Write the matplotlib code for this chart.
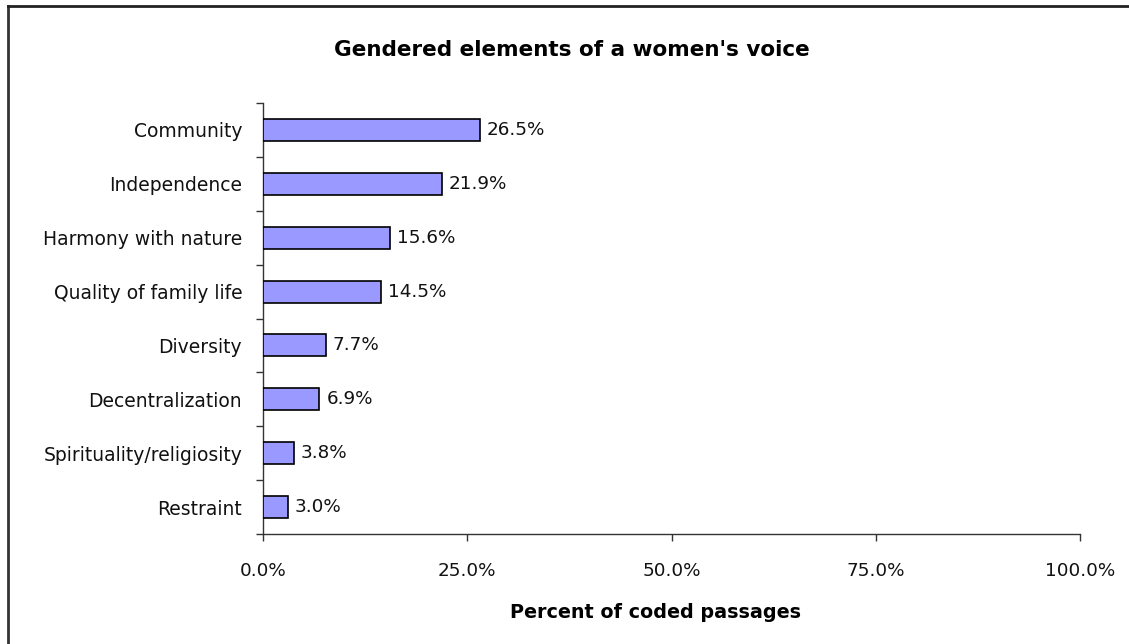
import matplotlib
matplotlib.use("Agg")
import matplotlib.pyplot as plt
from matplotlib.lines import Line2D
from matplotlib.ticker import FixedLocator, FuncFormatter

categories = [
    "Community",
    "Independence",
    "Harmony with nature",
    "Quality of family life",
    "Diversity",
    "Decentralization",
    "Spirituality/religiosity",
    "Restraint",
]
percents = [26.5, 21.9, 15.6, 14.5, 7.7, 6.9, 3.8, 3.0]
x_ticks = [0, 25, 50, 75, 100]

plt.rcParams["font.family"] = ["DejaVu Sans"]

W, H = 1129, 644
fig = plt.figure(figsize=(W / 100, H / 100), dpi=100)
fig.patch.set_facecolor("white")

ax = fig.add_axes([263 / W, 1 - 534 / H, (1080 - 263) / W, (534 - 103) / H])

n = len(categories)
ypos = list(range(n))[::-1]  # first category on top
ax.barh(ypos, percents, height=0.41, color="#9999FF", edgecolor="black",
        linewidth=1.2, zorder=3)

for y, v in zip(ypos, percents):
    ax.annotate(f"{v:.1f}%", xy=(v, y), xytext=(5, 0), textcoords="offset points",
                va="center", ha="left", fontsize=13.2, color="#111111")

ax.set_xlim(0, 100)
ax.set_ylim(-0.5, n - 0.5)

# x axis
ax.xaxis.set_major_locator(FixedLocator(x_ticks))
ax.xaxis.set_major_formatter(FuncFormatter(lambda v, p: f"{v:.1f}%"))
ax.tick_params(axis="x", direction="out", length=5, width=1, color="#333333",
               pad=15, labelsize=13.2, labelcolor="#111111")

# y axis: labels at centres, tick marks at category boundaries
ax.set_yticks(ypos)
ax.set_yticklabels(categories)
ax.yaxis.set_minor_locator(FixedLocator([i - 0.5 for i in range(n + 1)]))
ax.tick_params(axis="y", which="major", length=0, pad=15, labelsize=13.5,
               labelcolor="#111111")
ax.tick_params(axis="y", which="minor", direction="out", length=5, width=1,
               color="#333333")

for side in ("top", "right"):
    ax.spines[side].set_visible(False)
for side in ("left", "bottom"):
    ax.spines[side].set_color("#333333")
    ax.spines[side].set_linewidth(1)

# title and axis label
fig.text(572 / W, 1 - 50 / H, "Gendered elements of a women's voice", ha="center",
         va="center", fontsize=15.5, fontweight="bold", color="black")
fig.text(655 / W, 1 - 612 / H, "Percent of coded passages", ha="center",
         va="center", fontsize=13.8, fontweight="bold", color="black")

# outer frame (left and top edges)
fig.add_artist(Line2D([7.5 / W, 7.5 / W], [0, 1 - 6 / H], transform=fig.transFigure,
                      color="#333333", linewidth=2))
fig.add_artist(Line2D([7.5 / W, 1], [1 - 6 / H, 1 - 6 / H], transform=fig.transFigure,
                      color="#222222", linewidth=2))

fig.savefig("out.png", dpi=100, facecolor="white")
